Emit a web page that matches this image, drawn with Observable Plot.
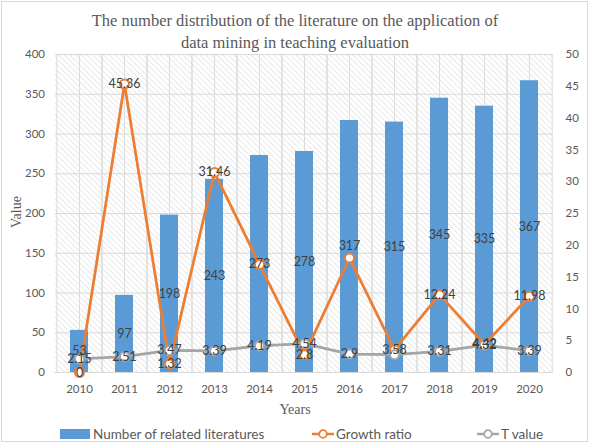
<!DOCTYPE html>
<html><head><meta charset="utf-8">
<script src="https://cdn.jsdelivr.net/npm/d3@7"></script>
<script src="https://cdn.jsdelivr.net/npm/@observablehq/plot@0.6"></script>
<style>
body{margin:0;background:#fff;}
#wrap{position:relative;width:590px;height:445px;overflow:hidden;font-family:Lato,"Liberation Sans",sans-serif;color:#595959;}
#border{position:absolute;left:1px;top:1px;width:585px;height:439px;border:1px solid #d9d9d9;}
#title{position:absolute;left:0;top:10px;width:590px;text-align:center;font-family:"Liberation Serif",serif;font-size:16.5px;line-height:22px;color:#595959;}
#chart{position:absolute;left:0;top:48px;}
#ylab{position:absolute;left:-8px;top:204px;width:50px;text-align:center;transform:rotate(-90deg);font-family:"Liberation Serif",serif;font-size:14px;color:#595959;}
#xlab{position:absolute;left:0;top:402px;width:590px;text-align:center;font-family:"Liberation Serif",serif;font-size:14px;color:#595959;}
#legend{position:absolute;left:0;top:425px;width:590px;height:18px;font-size:13.5px;color:#595959;}
.li{position:absolute;top:0;display:flex;align-items:center;height:18px;}
</style></head><body>
<div id="wrap">
 <div id="border"></div>
 <div id="title">The number distribution of the literature on the application of<br>data mining in teaching evaluation</div>
 <div id="chart"></div>
 <div id="ylab">Value</div>
 <div id="xlab">Years</div>
 <div id="legend"></div>
</div>
<script>
const years = ["2010","2011","2012","2013","2014","2015","2016","2017","2018","2019","2020"];
const counts = [53, 97, 198, 243, 273, 278, 317, 315, 345, 335, 367];
const growth = [0, 45.36, 1.32, 31.46, 17.0, 2.8, 18.0, 3.58, 12.24, 4.42, 11.98];
const tValues = [2.15, 2.51, 3.47, 3.39, 4.19, 4.54, 2.9, 2.8, 3.31, 4.32, 3.39];
const growthLabelShown = [true, true, true, true, false, true, false, true, true, true, true];
const tLabelShown = [true, true, true, true, true, true, true, false, true, true, true];
const leftTicks = d3.range(0, 401, 50);
const rightTicks = d3.range(0, 51, 5);
const seriesNames = ["Number of related literatures", "Growth ratio", "T value"];
const colors = {bar: "#5B9BD5", growth: "#ED7D31", t: "#A5A5A5"};
const RATIO = 400 / 50;

const data = years.map((y, i) => ({
  year: y, count: counts[i], growth: growth[i], t: tValues[i],
  gShow: growthLabelShown[i], tShow: tLabelShown[i]
}));

const W = 590, H = 372, ML = 54.5, MR = 37, MT = 6, MB = 48;
const step = (W - ML - MR) / years.length;
const fmt = v => String(v);

const plot = Plot.plot({
  width: W, height: H,
  marginLeft: ML, marginRight: MR, marginTop: MT, marginBottom: MB,
  style: {fontFamily: "Lato, 'Liberation Sans', sans-serif", fontSize: "11.5px", color: "#595959", background: "transparent"},
  x: {type: "band", domain: years, paddingInner: 0.59, paddingOuter: 0.295, label: null},
  y: {domain: [0, 400], label: null},
  marks: [
    Plot.frame({fill: "url(#hatch)", stroke: null}),
    Plot.gridY(leftTicks, {stroke: "#d9d9d9", strokeOpacity: 1, strokeWidth: 1}),
    Plot.ruleX(years, {x: d => d, stroke: "#dcdcdc", strokeWidth: 1}),
    Plot.ruleX(years, {x: d => d, dx: -step / 2, stroke: "#dcdcdc", strokeWidth: 1}),
    Plot.ruleX(years, {x: d => d, dx: step / 2, stroke: "#dcdcdc", strokeWidth: 1}),
    Plot.barY(data, {x: "year", y: "count", fill: colors.bar}),
    Plot.ruleY([0], {stroke: "#d9d9d9"}),
    Plot.line(data, {x: "year", y: d => d.growth * RATIO, stroke: colors.growth, strokeWidth: 2.75}),
    Plot.dot(data, {x: "year", y: d => d.growth * RATIO, r: 4.5, fill: "white", stroke: colors.growth, strokeWidth: 2}),
    Plot.line(data, {x: "year", y: d => d.t * RATIO, stroke: colors.t, strokeWidth: 2.75}),
    Plot.dot(data, {x: "year", y: d => d.t * RATIO, r: 4.5, fill: "white", stroke: colors.t, strokeWidth: 2}),
    Plot.text(data, {x: "year", y: d => d.count / 2, text: d => fmt(d.count), fill: "#404040", fontSize: 12.5}),
    Plot.text(data.filter(d => d.gShow), {x: "year", y: d => d.growth * RATIO, text: d => fmt(d.growth), fill: "#404040", fontSize: 12.5}),
    Plot.text(data.filter(d => d.tShow), {x: "year", y: d => d.t * RATIO, text: d => fmt(d.t), fill: "#404040", fontSize: 12.5}),
    Plot.axisY({anchor: "left", ticks: leftTicks, tickSize: 0, tickPadding: 10, label: null, fontSize: 11.5}),
    Plot.axisY({anchor: "right", ticks: rightTicks.map(v => v * RATIO), tickFormat: d => fmt(d / RATIO), tickSize: 0, tickPadding: 12, textAnchor: "start", label: null, fontSize: 11.5}),
    Plot.axisX({anchor: "bottom", tickSize: 0, tickPadding: 12, label: null, fontSize: 11.5})
  ]
});

// hatch pattern definition
const ns = "http://www.w3.org/2000/svg";
const defs = document.createElementNS(ns, "defs");
defs.innerHTML = '<pattern id="hatch" patternUnits="userSpaceOnUse" width="4" height="4" patternTransform="rotate(-45)">' +
  '<rect width="4" height="4" fill="#ffffff"/><line x1="0" y1="0" x2="0" y2="4" stroke="#e3e3e3" stroke-width="1.6"/></pattern>';
plot.insertBefore(defs, plot.firstChild);
document.getElementById("chart").appendChild(plot);

// legend
const legend = document.getElementById("legend");
const items = [
  {name: seriesNames[0], left: 60, kind: "bar", color: colors.bar},
  {name: seriesNames[1], left: 312, kind: "line", color: colors.growth},
  {name: seriesNames[2], left: 477, kind: "line", color: colors.t}
];
items.forEach(it => {
  const el = document.createElement("div");
  el.className = "li";
  el.style.left = it.left + "px";
  let sym;
  if (it.kind === "bar") {
    sym = `<svg width="30" height="10" style="margin-right:3px"><rect width="30" height="10" fill="${it.color}"/></svg>`;
  } else {
    sym = `<svg width="22" height="12" style="margin-right:2px"><line x1="0" y1="6" x2="22" y2="6" stroke="${it.color}" stroke-width="2.5"/><circle cx="11" cy="6" r="3.8" fill="white" stroke="${it.color}" stroke-width="1.8"/></svg>`;
  }
  el.innerHTML = sym + `<span>${it.name}</span>`;
  legend.appendChild(el);
});
</script>
</body></html>
